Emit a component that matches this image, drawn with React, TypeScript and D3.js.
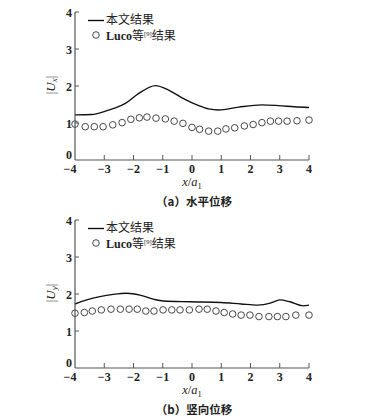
import React from "react";
import * as d3 from "d3";

const xTicks = [-4, -3, -2, -1, 0, 1, 2, 3, 4];
const yTicks = [0, 1, 2, 3, 4];

const lineAX = [-4, -3.42, -2.96, -2.62, -2.28, -1.82, -1.25, -0.8, -0.34, 0.23, 0.57, 0.91, 1.6, 2.39, 2.96, 3.5, 4];
const lineAY = [1.22, 1.23, 1.32, 1.41, 1.53, 1.8, 2.01, 1.89, 1.68, 1.47, 1.38, 1.35, 1.43, 1.49, 1.47, 1.44, 1.42];

const dotsAX = [-4, -3.65, -3.34, -3.04, -2.71, -2.39, -2.09, -1.8, -1.54, -1.23, -0.91, -0.61, -0.31, 0, 0.26, 0.57, 0.88, 1.16, 1.46, 1.79, 2.09, 2.39, 2.68, 2.96, 3.25, 3.59, 4];
const dotsAY = [0.97, 0.9, 0.9, 0.9, 0.95, 1.01, 1.1, 1.14, 1.16, 1.13, 1.11, 1.05, 0.99, 0.88, 0.83, 0.78, 0.78, 0.84, 0.87, 0.92, 0.96, 1.01, 1.05, 1.05, 1.05, 1.06, 1.08];

const lineBX = [-4, -3.6, -3.15, -2.69, -2.23, -1.78, -1.32, -0.98, -0.07, 1.0, 1.68, 2.25, 2.7, 3.0, 3.35, 3.8, 4];
const lineBY = [1.73, 1.84, 1.93, 1.99, 2.02, 1.97, 1.86, 1.81, 1.79, 1.77, 1.73, 1.7, 1.76, 1.84, 1.79, 1.68, 1.7];

const dotsBX = [-4, -3.68, -3.41, -3.1, -2.77, -2.45, -2.15, -1.87, -1.58, -1.3, -0.99, -0.69, -0.41, -0.09, 0.24, 0.52, 0.82, 1.1, 1.39, 1.68, 1.98, 2.29, 2.63, 2.92, 3.21, 3.55, 4];
const dotsBY = [1.48, 1.5, 1.54, 1.57, 1.59, 1.59, 1.59, 1.59, 1.54, 1.54, 1.57, 1.57, 1.57, 1.57, 1.59, 1.59, 1.54, 1.5, 1.46, 1.43, 1.43, 1.39, 1.39, 1.39, 1.39, 1.43, 1.43];

const legendLine = "本文结果";
const legendDotsLatin = "Luco";
const legendDotsMid = "等";
const legendDotsSup = "[9]";
const legendDotsPost = "结果";

const serif = "'Liberation Serif', 'DejaVu Serif', serif";
const cjk = "'Noto Sans CJK SC', sans-serif";

type PanelProps = {
  top: number;
  bottom: number;
  lx: number[];
  ly: number[];
  dx: number[];
  dy: number[];
  sub: string;
  caption: string;
};

function Panel({ top, bottom, lx, ly, dx, dy, sub, caption }: PanelProps) {
  const x = d3.scaleLinear().domain([-4, 4]).range([75, 309]);
  const y = d3.scaleLinear().domain([0, 4]).range([bottom, top]);
  const line = d3
    .line<number>()
    .x((_, i) => x(lx[i]))
    .y((v) => y(v))
    .curve(d3.curveMonotoneX);
  const axisColor = "#555";
  return (
    <g>
      <path d={line(ly) || ""} fill="none" stroke="#111" strokeWidth={1.4} />
      {dy.map((v, i) => (
        <circle key={i} cx={x(dx[i])} cy={y(v)} r={3.3} fill="#fff" stroke="#333" strokeWidth={0.9} />
      ))}
      <line x1={x(-4)} x2={x(-4)} y1={y(4)} y2={y(0)} stroke={axisColor} strokeWidth={1.2} />
      <line x1={x(-4)} x2={x(4)} y1={y(0)} y2={y(0)} stroke={axisColor} strokeWidth={1.2} />
      {xTicks.map((t) => (
        <g key={"x" + t}>
          {t !== -4 && (
            <line x1={x(t)} x2={x(t)} y1={y(0)} y2={y(0) - 5} stroke={axisColor} strokeWidth={1} />
          )}
          <text x={x(t) - (t === -4 ? 5 : 0)} y={y(0) + 12.5} textAnchor="middle" fontFamily={serif} fontWeight="bold" fontSize={12} fill="#222">
            {t < 0 ? "−" + Math.abs(t) : String(t)}
          </text>
        </g>
      ))}
      {yTicks.map((t) => (
        <g key={"y" + t}>
          {t !== 0 && (
            <line x1={x(-4)} x2={x(-4) + 4} y1={y(t)} y2={y(t)} stroke={axisColor} strokeWidth={1} />
          )}
          <text x={72} y={y(t) + (t === 0 ? -1 : 4.5)} textAnchor="end" fontFamily={serif} fontWeight="bold" fontSize={12} fill="#222">
            {String(t)}
          </text>
        </g>
      ))}
      <text transform={`translate(55,${y(2) - 1}) rotate(-90)`} textAnchor="middle" fontFamily={serif} fontSize={13} fill="#222">
        |<tspan fontStyle="italic">U</tspan>
        <tspan fontStyle="italic" fontSize={9} dy={2}>{sub}</tspan>
        <tspan dy={-2}>|</tspan>
      </text>
      <text x={192} y={y(0) + 26} textAnchor="middle" fontFamily={serif} fontSize={12.5} fill="#222">
        <tspan fontStyle="italic">x</tspan>/<tspan fontStyle="italic">a</tspan>
        <tspan fontSize={8.5} dy={2.5}>1</tspan>
      </text>
      <text x={194} y={y(0) + 45.5} textAnchor="middle" fontFamily={cjk} fontWeight="bold" fontSize={11.5} fill="#222">
        {caption}
      </text>
      <line x1={88} x2={104} y1={top + 8.5} y2={top + 8.5} stroke="#111" strokeWidth={1.4} />
      <text x={106} y={top + 12} fontFamily={cjk} fontSize={12} fill="#222">
        {legendLine}
      </text>
      <circle cx={96} cy={top + 23} r={3.3} fill="#fff" stroke="#333" strokeWidth={0.9} />
      <text x={106} y={top + 27.5} fontFamily={serif} fontWeight="bold" fontSize={12} fill="#222">
        {legendDotsLatin}
        <tspan fontFamily={cjk} fontWeight="normal">{legendDotsMid}</tspan>
        <tspan fontSize={6.5} dy={-4} fontWeight="normal">{legendDotsSup}</tspan>
        <tspan fontFamily={cjk} fontWeight="normal" dy={4}>{legendDotsPost}</tspan>
      </text>
    </g>
  );
}

export default function App() {
  return (
    <div style={{ position: "fixed", left: 0, top: 0 }}>
      <svg width={377} height={420} style={{ display: "block", background: "#fff" }}>
        <Panel top={12} bottom={160} lx={lineAX} ly={lineAY} dx={dotsAX} dy={dotsAY} sub="x" caption="（a）水平位移" />
        <Panel top={220} bottom={368} lx={lineBX} ly={lineBY} dx={dotsBX} dy={dotsBY} sub="y" caption="（b）竖向位移" />
      </svg>
    </div>
  );
}
